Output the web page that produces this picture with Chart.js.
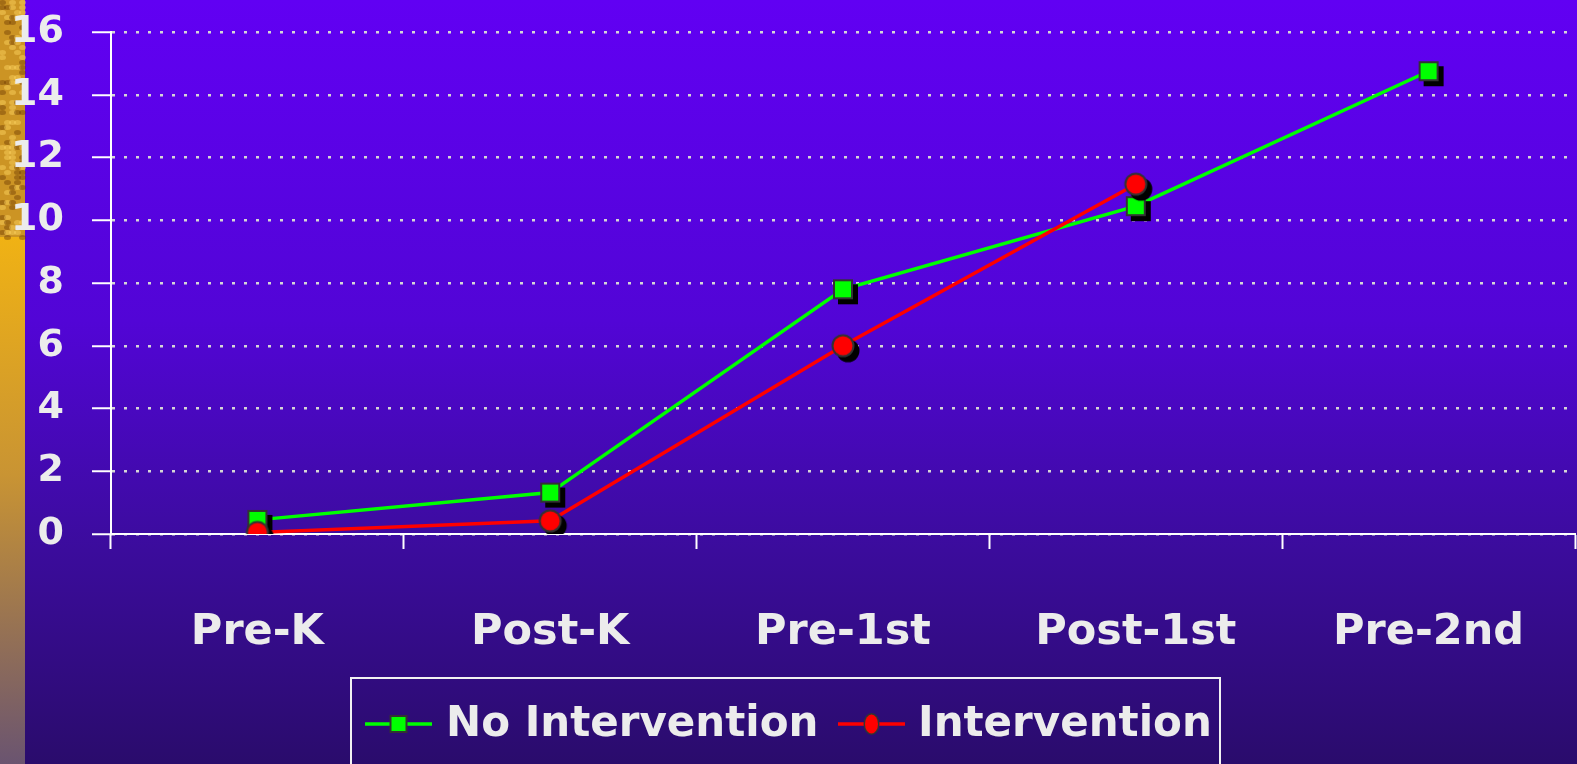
<!DOCTYPE html>
<html><head><meta charset="utf-8">
<script src="https://cdn.jsdelivr.net/npm/chart.js@4"></script>
<style>
html,body{margin:0;padding:0;background:#2a0c6c;overflow:hidden}
#wrap{position:relative;width:1577px;height:764px}
canvas{display:block}
</style></head><body>
<div id="wrap"><canvas id="c" width="1577" height="764"></canvas></div>
<script>
// ---- data ----
const categories = ['Pre-K', 'Post-K', 'Pre-1st', 'Post-1st', 'Pre-2nd'];
const seriesNames = ['No Intervention', 'Intervention'];
const noIntervention = [0.45, 1.32, 7.8, 10.45, 14.75];
const intervention = [0.05, 0.42, 6.0, 11.15, null];
const yMin = 0, yMax = 16, yStep = 2;

// ---- styling helpers ----
const FONT = "'DejaVu Sans', 'Liberation Sans', sans-serif";
const TEXT = '#ececec';
const GREEN = '#00ff00', RED = '#ff0000';

function makeMarker(kind) {
  const c = document.createElement('canvas');
  const s = kind === 'square' ? 32 : 36;
  c.width = s; c.height = s;
  const g = c.getContext('2d');
  const m = s / 2, off = 5;
  if (kind === 'square') {
    const h = 10;
    g.fillStyle = '#000';
    g.fillRect(m - h + off, m - h + off, 2 * h, 2 * h);
    g.fillStyle = '#333';
    g.fillRect(m - h, m - h, 2 * h, 2 * h);
    g.fillStyle = GREEN;
    g.fillRect(m - h + 2, m - h + 2, 2 * h - 4, 2 * h - 4);
  } else {
    const r = 11.5;
    g.fillStyle = '#000';
    g.beginPath(); g.arc(m + off, m + off, r, 0, Math.PI * 2); g.fill();
    g.fillStyle = '#333';
    g.beginPath(); g.arc(m, m, r, 0, Math.PI * 2); g.fill();
    g.fillStyle = RED;
    g.beginPath(); g.arc(m, m, r - 2, 0, Math.PI * 2); g.fill();
  }
  return c;
}
const squareMarker = makeMarker('square');
const circleMarker = makeMarker('circle');

const backgroundPlugin = {
  id: 'bg',
  beforeDraw(chart) {
    const ctx = chart.ctx, W = chart.width, H = chart.height;
    ctx.save();
    const gr = ctx.createLinearGradient(0, 0, 0, H);
    gr.addColorStop(0, '#6100f3');
    gr.addColorStop(0.42, '#5205d6');
    gr.addColorStop(0.72, '#3b0c9c');
    gr.addColorStop(1, '#2a0c6c');
    ctx.fillStyle = gr;
    ctx.fillRect(0, 0, W, H);
    // left decorative strip
    const sg = ctx.createLinearGradient(0, 237, 0, H);
    sg.addColorStop(0, '#f0b214');
    sg.addColorStop(0.45, '#c99433');
    sg.addColorStop(1, '#6a5470');
    ctx.fillStyle = sg;
    ctx.fillRect(0, 237, 25, H - 237);
    ctx.fillStyle = '#cc9424';
    ctx.fillRect(0, 0, 25, 237);
    // texture
    for (let y = 0; y < 237; y += 5) {
      for (let x = 0; x < 25; x += 5) {
        const v = Math.sin(x * 12.9898 + y * 78.233) * 43758.5453;
        const f = v - Math.floor(v);
        ctx.fillStyle = f > 0.7 ? 'rgba(255,215,100,0.45)' : (f < 0.2 ? 'rgba(110,60,5,0.45)' : 'rgba(0,0,0,0)');
        ctx.beginPath(); ctx.ellipse(x + 2.5, y + 2.5, 3.5, 2.5, 0, 0, Math.PI * 2); ctx.fill();
      }
    }
    ctx.restore();
  }
};

const legendPlugin = {
  id: 'customLegend',
  afterDraw(chart) {
    const ctx = chart.ctx;
    ctx.save();
    ctx.strokeStyle = '#f2f2f2';
    ctx.lineWidth = 2;
    ctx.strokeRect(351, 678, 869, 100);
    const y = 724;
    const items = [
      {x0: 365, x1: 432, color: GREEN, kind: 'square', text: seriesNames[0], tx: 446},
      {x0: 838, x1: 905, color: RED, kind: 'circle', text: seriesNames[1], tx: 918}
    ];
    ctx.font = 'bold 42px ' + FONT;
    ctx.textBaseline = 'middle';
    ctx.textAlign = 'left';
    for (const it of items) {
      ctx.strokeStyle = it.color;
      ctx.lineWidth = 3.5;
      ctx.beginPath(); ctx.moveTo(it.x0, y); ctx.lineTo(it.x1, y); ctx.stroke();
      const mx = (it.x0 + it.x1) / 2;
      if (it.kind === 'square') {
        ctx.fillStyle = '#333'; ctx.fillRect(mx - 9, y - 9, 18, 18);
        ctx.fillStyle = GREEN; ctx.fillRect(mx - 7, y - 7, 14, 14);
      } else {
        ctx.fillStyle = '#333'; ctx.beginPath(); ctx.ellipse(mx, y, 8, 11, 0, 0, Math.PI * 2); ctx.fill();
        ctx.fillStyle = RED; ctx.beginPath(); ctx.ellipse(mx, y, 6.5, 9.5, 0, 0, Math.PI * 2); ctx.fill();
      }
      ctx.fillStyle = TEXT;
      ctx.fillText(it.text, it.tx, y + 1);
    }
    ctx.restore();
  }
};

Chart.defaults.font.family = FONT;

new Chart(document.getElementById('c'), {
  type: 'line',
  data: {
    labels: categories,
    datasets: [
      {
        label: seriesNames[0], data: noIntervention,
        borderColor: GREEN, backgroundColor: GREEN, borderWidth: 3.5,
        pointStyle: squareMarker, pointRadius: 10, tension: 0, order: 1
      },
      {
        label: seriesNames[1], data: intervention,
        borderColor: RED, backgroundColor: RED, borderWidth: 3.5,
        pointStyle: circleMarker, pointRadius: 11, tension: 0, order: 0
      }
    ]
  },
  options: {
    responsive: false,
    animation: false,
    events: [],
    layout: { autoPadding: false, padding: { left: 0, right: 2, top: 32, bottom: 0 } },
    plugins: { legend: { display: false }, tooltip: { enabled: false } },
    scales: {
      x: {
        offset: true,
        grid: {
          offset: true, drawOnChartArea: false, drawTicks: true,
          tickLength: 15, tickColor: '#ffffff', tickWidth: 2, color: '#ffffff'
        },
        border: { display: true, color: '#ffffff', width: 2 },
        ticks: { color: TEXT, font: { size: 43, weight: 'bold' }, padding: 58, maxRotation: 0, autoSkip: false },
        afterFit(scale) {
          scale.height = 230;
          scale.paddingLeft = 0; scale.paddingRight = 0;
        }
      },
      y: {
        min: yMin, max: yMax,
        grid: {
          color: '#d6d6d6', lineWidth: 2.5,
          drawTicks: true, tickLength: 19, tickColor: '#ffffff', tickWidth: 2, tickBorderDash: []
        },
        border: { display: true, color: '#ffffff', width: 2, dash: [3, 9] },
        ticks: { stepSize: yStep, color: TEXT, font: { size: 38, weight: 'bold' }, padding: 28 },
        afterFit(scale) {
          scale.width = 111;
          scale.paddingTop = 0; scale.paddingBottom = 0;
        }
      }
    }
  },
  plugins: [backgroundPlugin, legendPlugin]
});
</script>
</body></html>
